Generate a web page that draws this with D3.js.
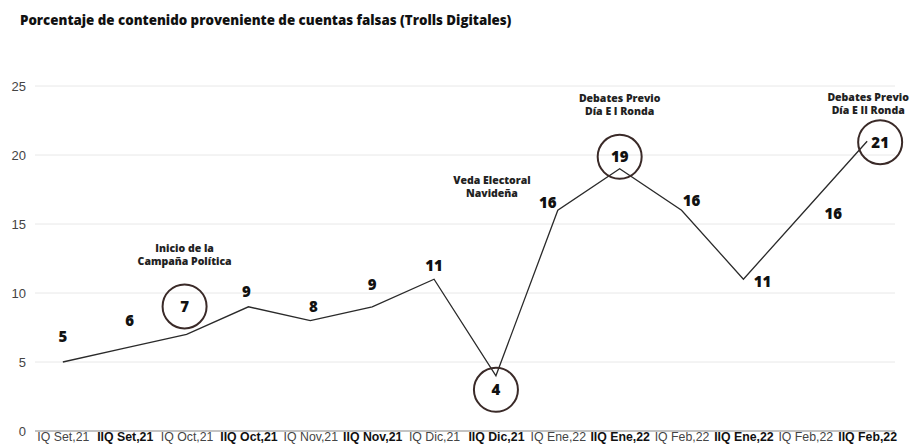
<!DOCTYPE html>
<html>
<head>
<meta charset="utf-8">
<script src="https://cdn.jsdelivr.net/npm/d3@7"></script>
<style>
  body { margin: 0; background: #fff; }
  svg { font-family: "Open Sans", Lato, sans-serif; }
  .grid line { stroke: #e8e8e8; }
  .y.axis text { fill: #444; font-size: 13px; }
  .x.axis text { fill: #333; font-size: 12.3px; }
</style>
</head>
<body>
<div id="chart"></div>
<script>
var periods = ["IQ Set,21", "IIQ Set,21", "IQ Oct,21", "IIQ Oct,21", "IQ Nov,21", "IIQ Nov,21",
               "IQ Dic,21", "IIQ Dic,21", "IQ Ene,22", "IIQ Ene,22", "IQ Feb,22", "IIQ Ene,22",
               "IQ Feb,22", "IIQ Feb,22"];
var trolls = [5, 6, 7, 9, 8, 9, 11, 4, 16, 19, 16, 11, 16, 21];
var yTicks = [0, 5, 10, 15, 20, 25];
var circled = [2, 7, 9, 13];
var notes = [
  {i: 2, lines: ["Inicio de la", "Campaña Política"]},
  {i: 7, lines: ["Veda Electoral", "Navideña"]},
  {i: 9, lines: ["Debates Previo", "Día E I Ronda"]},
  {i: 13, lines: ["Debates Previo", "Día E II Ronda"]}
];

// label placement (px) relative to each point
var labelShift = [[0,-25],[5,-28],[-2,-28],[-2,-15],[3,-14],[0,-22],[0,-14],
                  [0,14],[-10,-8],[0,-12],[10,-10],[19,2],[28,3],[13,1]];
var noteShift = {2: [-2, -82], 7: [-4, -192], 9: [0, -67], 13: [1, -40]};

var width = 911, height = 447;
var svg = d3.select('#chart').append('svg')
    .attr('width', width)
    .attr('height', height);

var x = d3.scalePoint()
    .domain(d3.range(periods.length))
    .range([35, 895])
    .padding(0.45);

var y = d3.scaleLinear()
    .domain([0, 25])
    .range([431, 86]);

svg.append('text')
    .attr('x', 20)
    .attr('y', 25)
    .style('font-size', '13.3px')
    .style('font-weight', 800)
    .style('fill', '#111')
    .text('Porcentaje de contenido proveniente de cuentas falsas (Trolls Digitales)');

svg.append('g')
    .attr('class', 'grid')
    .selectAll('line')
    .data(yTicks.slice(1))
  .enter().append('line')
    .attr('x1', 35).attr('x2', 895)
    .attr('y1', function(d) { return y(d); })
    .attr('y2', function(d) { return y(d); });

var yAxis = d3.axisLeft(y).tickValues(yTicks).tickSize(0).tickPadding(9);
svg.append('g')
    .attr('class', 'y axis')
    .attr('transform', 'translate(35,0)')
    .call(yAxis)
    .call(function(g) { g.select('.domain').remove(); });

var xAxis = d3.axisBottom(x)
    .tickSize(0)
    .tickPadding(1)
    .tickFormat(function(i) { return periods[i]; });
svg.append('g')
    .attr('class', 'x axis')
    .attr('transform', 'translate(0,' + y(0) + ')')
    .call(xAxis)
    .call(function(g) {
      g.select('.domain').attr('d', 'M35,0H895').attr('stroke', '#888').attr('stroke-width', 1.2);
      g.selectAll('.tick text')
        .style('font-weight', function(i) { return i % 2 ? 800 : 400; })
        .style('fill', function(i) { return i % 2 ? '#111' : '#444'; });
    });

var line = d3.line()
    .x(function(d, i) { return x(i); })
    .y(function(d) { return y(d); });

svg.append('path')
    .datum(trolls)
    .attr('fill', 'none')
    .attr('stroke', '#2a2a2a')
    .attr('stroke-width', 1.3)
    .attr('d', line);

svg.selectAll('.ring')
    .data(circled)
  .enter().append('circle')
    .attr('class', 'ring')
    .attr('cx', function(i) { return x(i) + labelShift[i][0]; })
    .attr('cy', function(i) { return y(trolls[i]) + labelShift[i][1]; })
    .attr('r', 22)
    .attr('fill', 'none')
    .attr('stroke', '#3a2a28')
    .attr('stroke-width', 2);

svg.selectAll('.val')
    .data(trolls)
  .enter().append('text')
    .attr('class', 'val')
    .attr('x', function(d, i) { return x(i) + labelShift[i][0]; })
    .attr('y', function(d, i) { return y(d) + labelShift[i][1]; })
    .attr('dy', '0.36em')
    .attr('text-anchor', 'middle')
    .style('font-size', '15px')
    .style('font-weight', 800)
    .style('fill', '#111')
    .text(function(d) { return d; });

var note = svg.selectAll('.note')
    .data(notes)
  .enter().append('text')
    .attr('class', 'note')
    .attr('text-anchor', 'middle')
    .style('font-size', '10.5px')
    .style('font-weight', 800)
    .style('fill', '#222')
    .attr('transform', function(d) {
      return 'translate(' + (x(d.i) + noteShift[d.i][0]) + ',' + (y(trolls[d.i]) + noteShift[d.i][1]) + ')';
    });

note.selectAll('tspan')
    .data(function(d) { return d.lines; })
  .enter().append('tspan')
    .attr('x', 0)
    .attr('dy', function(d, k) { return k ? 13 : 0; })
    .text(function(d) { return d; });
</script>
</body>
</html>
